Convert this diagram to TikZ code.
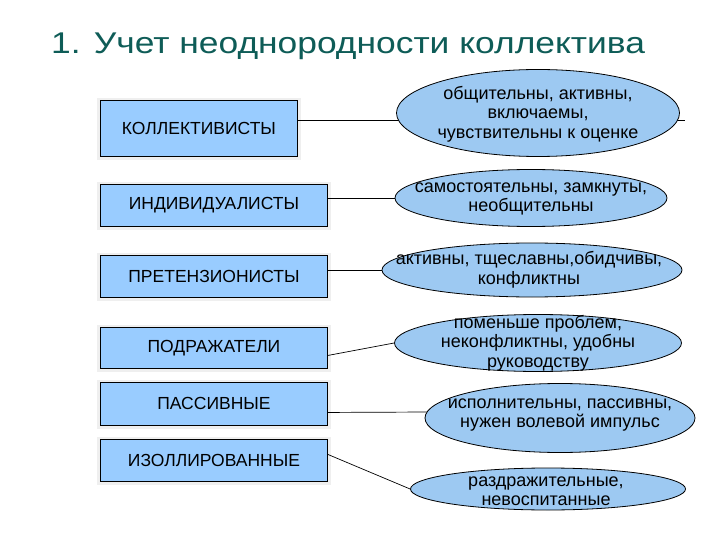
\documentclass[tikz,border=0pt]{standalone}
\usepackage{fontspec}
\setmainfont{Liberation Sans}
\usetikzlibrary{shapes.geometric,backgrounds,calc}
\definecolor{titlecol}{HTML}{0E5C57}
\definecolor{boxfill}{HTML}{99CCFF}
\definecolor{ellfill}{HTML}{9DC9F2}
\definecolor{shadowcol}{HTML}{EFEFEF}
\begin{document}
\begin{tikzpicture}[x=1pt,y=-1pt,
  typebox/.style={draw=black, line width=0.9pt, fill=boxfill, inner sep=0pt, anchor=north west,
    font=\fontsize{17.5}{20}\selectfont},
  trait/.style={ellipse, draw=black, line width=0.8pt, fill=ellfill, inner sep=0pt},
  traittext/.style={align=center, inner sep=0pt, font=\fontsize{18}{19.5}\selectfont},
  link/.style={draw=black, line width=0.7pt},
  boxshadow/.style={fill=shadowcol, draw=none}]
\useasboundingbox (0,0) rectangle (720,540);

\node[anchor=base west, text=titlecol, font=\fontsize{30}{34}\selectfont, inner sep=0pt, xscale=1.18] (title) at (51,54) {1. Учет неоднородности коллектива};

% left boxes
\node[typebox, minimum width=197pt, minimum height=56pt] (k1) at (100,100) {КОЛЛЕКТИВИСТЫ};
\node[typebox, minimum width=227pt, minimum height=42pt] (k2) at (100,184) {ИНДИВИДУАЛИСТЫ};
\node[typebox, minimum width=227pt, minimum height=42pt] (k3) at (100,255) {ПРЕТЕНЗИОНИСТЫ};
\node[typebox, minimum width=227pt, minimum height=41pt] (k4) at (100,327) {ПОДРАЖАТЕЛИ};
\node[typebox, minimum width=227pt, minimum height=43pt] (k5) at (100,382) {ПАССИВНЫЕ};
\node[typebox, minimum width=227pt, minimum height=42pt] (k6) at (100,439) {ИЗОЛЛИРОВАННЫЕ};

% right ellipses
\node[trait, minimum width=283pt, minimum height=87pt] (e1) at (538,113) {};
\node[trait, minimum width=272pt, minimum height=57pt] (e2) at (531,198) {};
\node[trait, minimum width=300pt, minimum height=54pt] (e3) at (532,270) {};
\node[trait, minimum width=287pt, minimum height=57pt] (e4) at (538,343) {};
\node[trait, minimum width=270pt, minimum height=69pt] (e5) at (560,418) {};
\node[trait, minimum width=275pt, minimum height=42pt] (e6) at (548,489) {};

\node[traittext] (t1) at ($(e1.center)+(0,1)$) {общительны, активны,\\включаемы,\\чувствительны к оценке};
\node[traittext] (t2) at ($(e2.center)+(0,1)$) {самостоятельны, замкнуты,\\необщительны};
\node[traittext] (t3) at ($(e3.center)+(-3,0)$) {активны, тщеславны,обидчивы,\\конфликтны};
\node[traittext] (t4) at ($(e4.center)+(0,0)$) {поменьше проблем,\\неконфликтны, удобны\\руководству};
\node[traittext] (t5) at ($(e5.center)+(0,-3)$) {исполнительны, пассивны,\\нужен волевой импульс};
\node[traittext] (t6) at ($(e6.center)+(-2,2)$) {раздражительные,\\невоспитанные};

\coordinate (c1) at (685,120);

\begin{pgfonlayer}{background}
  \foreach \k in {k1,k2,k3,k4,k5,k6}{
    \fill[boxshadow] ($(\k.north west)+(-3,-2)$) rectangle ($(\k.south east)+(3,3)$);
  }
  \draw[link] (k1.east |- c1) -- (c1);
  \draw[link] (k2.east |- e2.west) -- (e2.west);
  \draw[link] (k3.east |- e3.west) -- (e3.west);
  \draw[link] ($(k4.east)+(0,7.5)$) -- (e4.west);
  \draw[link] ($(k5.east)+(0,8.5)$) -- ($(e5.west)+(5,-6)$);
  \draw[link] ($(k6.east)+(0,-6)$) -- (e6.west);
\end{pgfonlayer}
\end{tikzpicture}
\end{document}
